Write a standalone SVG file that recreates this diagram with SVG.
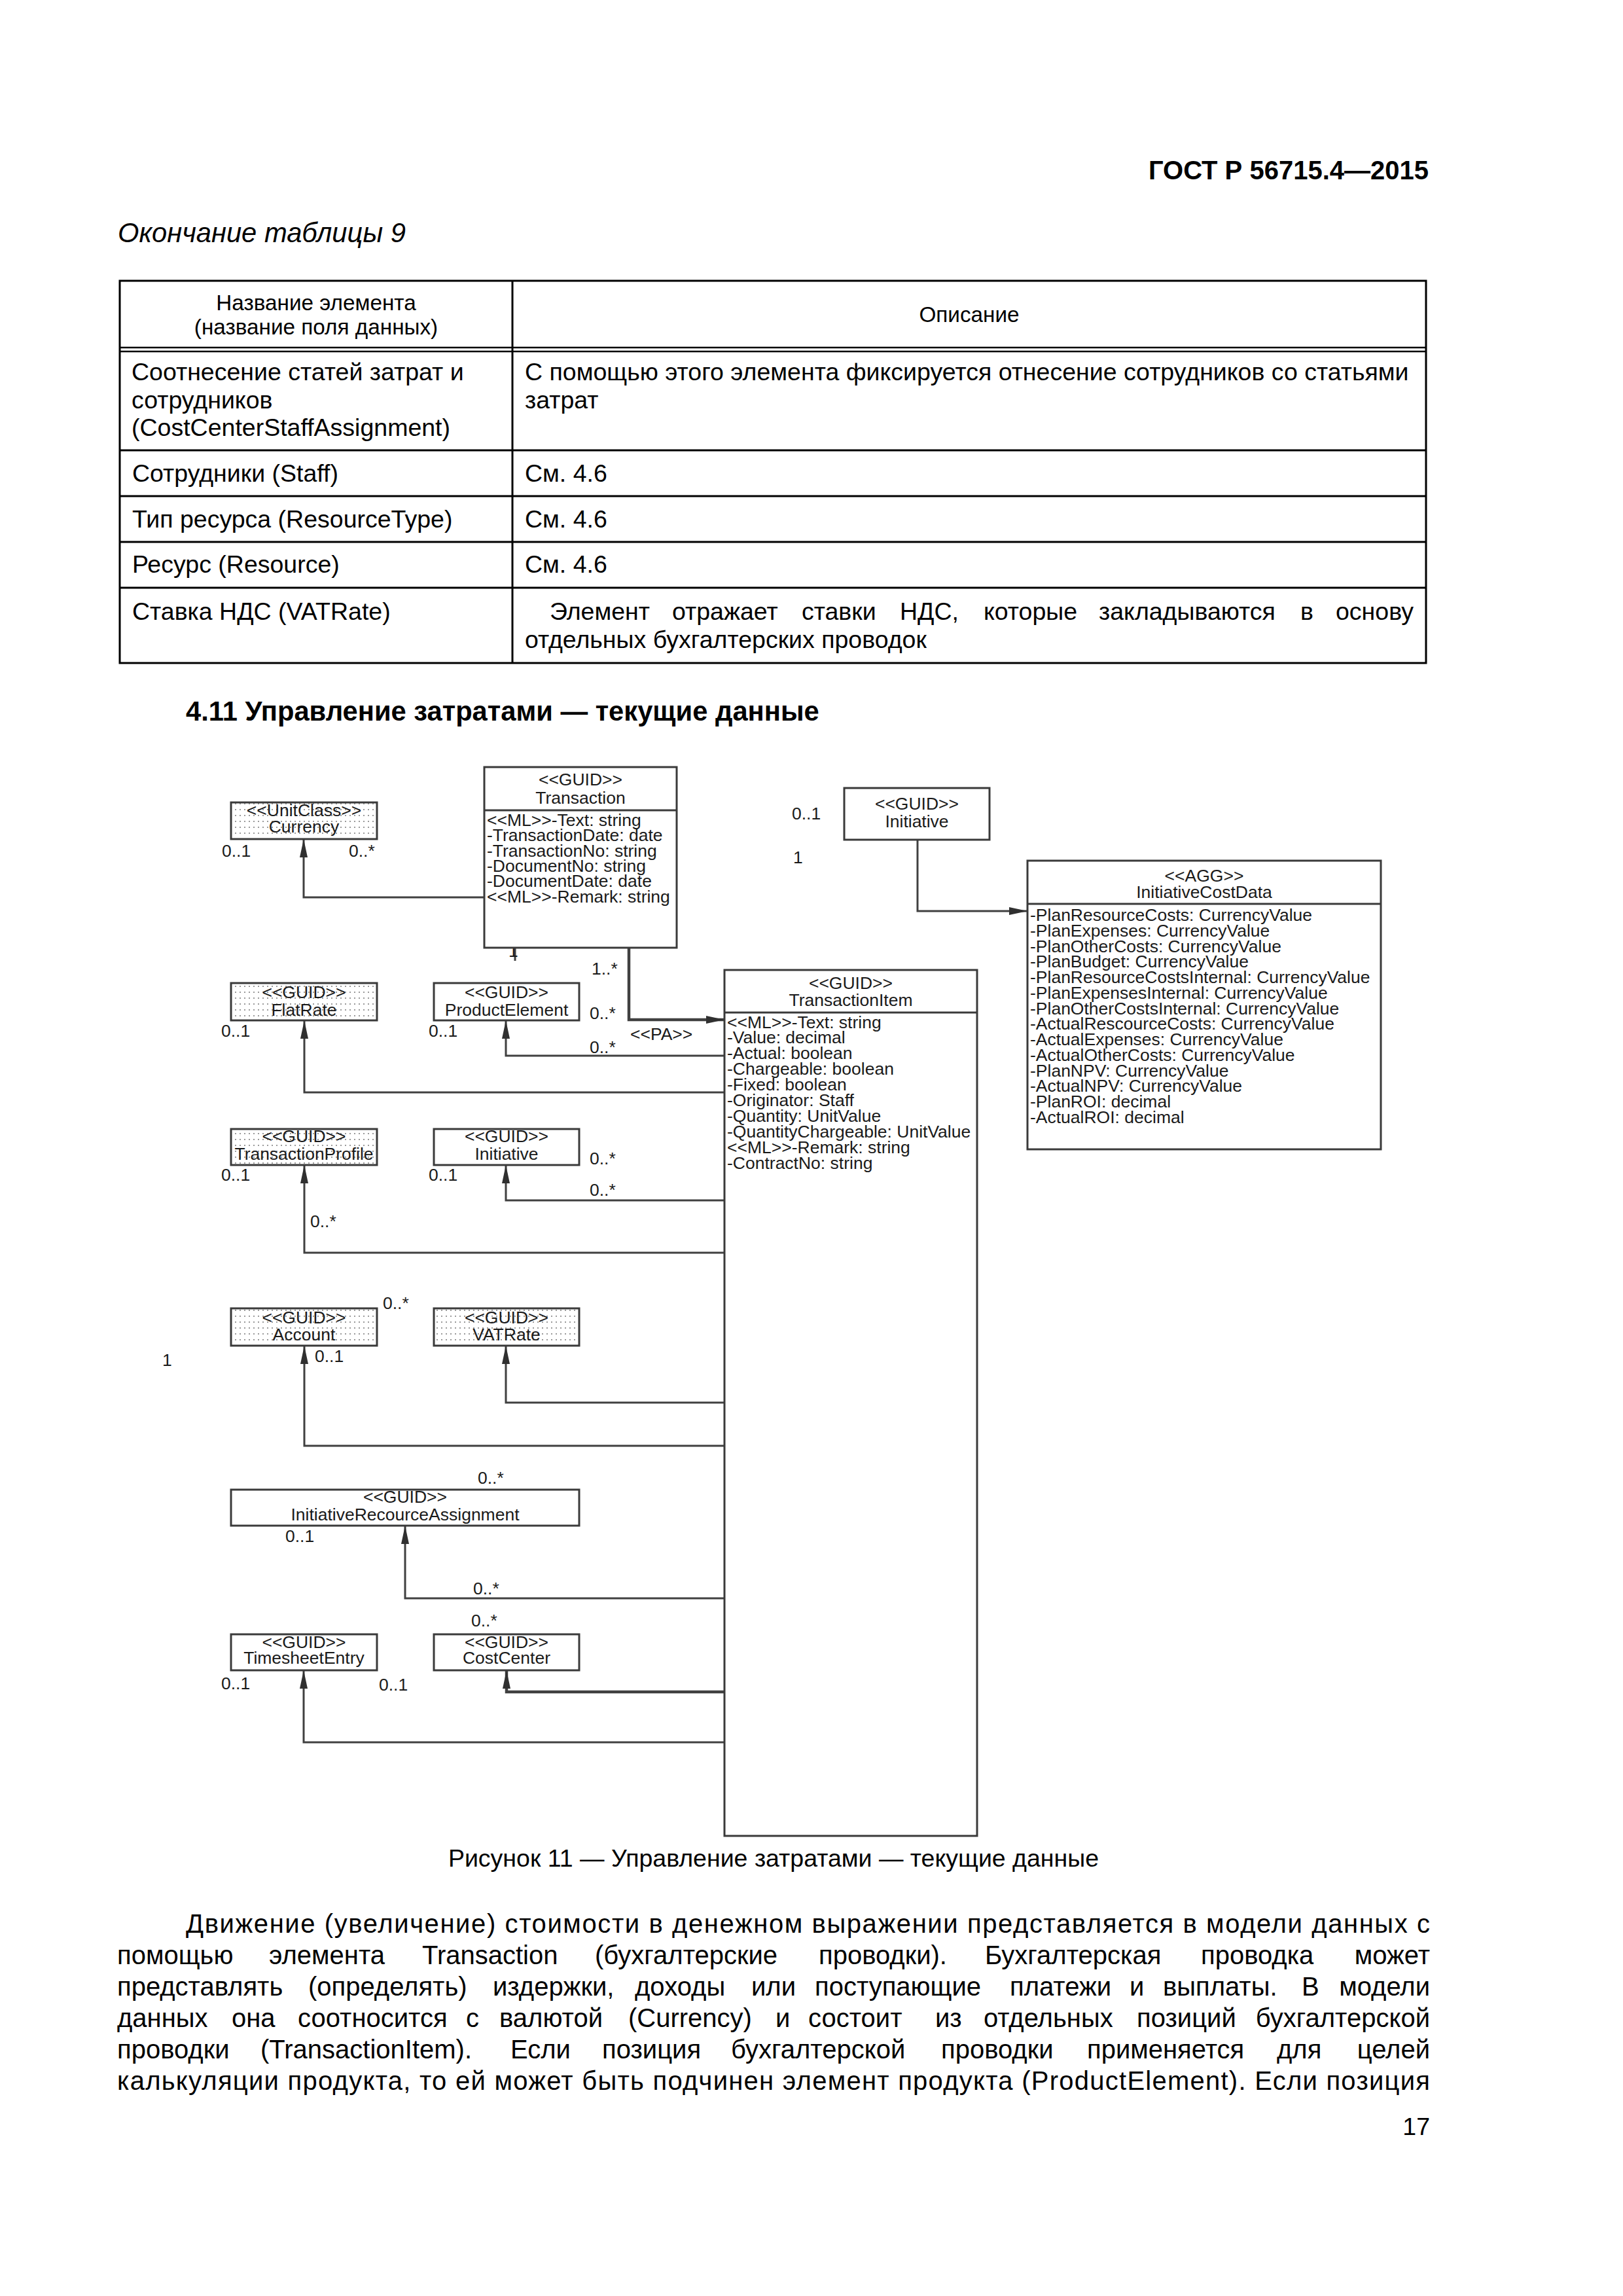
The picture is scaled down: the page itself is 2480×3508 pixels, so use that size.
<svg xmlns="http://www.w3.org/2000/svg" width="2480" height="3508" viewBox="0 0 2480 3508">
<defs>
<style>
.pg{font-family:"Liberation Sans",Arial,sans-serif;fill:#000}
.h{font-size:41.7px;font-weight:bold}
.it{font-size:41.7px;font-style:italic}
.tb{font-size:37.5px}
.th{font-size:33.3px}
.bd{font-size:40px}
.cap{font-size:37.5px}
.t{font-family:"Liberation Sans",Arial,sans-serif;font-size:26.5px;fill:#1a1a1a}
.c{text-anchor:middle}
.e{text-anchor:end}
.box{fill:#fff;stroke:#3a3a3a;stroke-width:3}
.dot{fill:url(#dots);stroke:#3a3a3a;stroke-width:3}
.div{stroke:#3a3a3a;stroke-width:3}
.ln{fill:none;stroke:#404040;stroke-width:3}
.tk{stroke-width:4.5}
.tl{stroke:#000;stroke-width:3;fill:none}
</style>
<pattern id="dots" width="7" height="9" patternUnits="userSpaceOnUse">
<rect width="7" height="9" fill="#fff"/>
<rect x="2" y="3" width="2" height="2" fill="#9a9a9a"/>
</pattern>
<marker id="ar" markerUnits="userSpaceOnUse" markerWidth="28" markerHeight="12" refX="28" refY="6" orient="auto">
<path d="M0,0 L28,6 L0,12 z" fill="#303030"/>
</marker>
</defs>
<rect width="2480" height="3508" fill="#fff"/>

<g id="page-text" class="pg">
<text class="e" x="2183" y="274" style="font-size:40px;font-weight:bold">ГОСТ Р 56715.4—2015</text>
<text class="it" x="180" y="370">Окончание таблицы 9</text>
</g>

<g id="table">
<rect class="tl" x="183" y="429" width="1996" height="584"/>
<line class="tl" x1="783" y1="429" x2="783" y2="1013"/>
<line class="tl" x1="183" y1="531" x2="2179" y2="531" style="stroke-width:2.5"/>
<line class="tl" x1="183" y1="537" x2="2179" y2="537" style="stroke-width:2.5"/>
<line class="tl" x1="183" y1="688" x2="2179" y2="688"/>
<line class="tl" x1="183" y1="758" x2="2179" y2="758"/>
<line class="tl" x1="183" y1="828" x2="2179" y2="828"/>
<line class="tl" x1="183" y1="898" x2="2179" y2="898"/>
<g class="pg">
<text class="th c" x="483" y="474">Название элемента</text>
<text class="th c" x="483" y="511">(название поля данных)</text>
<text class="th c" x="1481" y="492">Описание</text>
<text class="tb" x="201" y="581">Соотнесение статей затрат и</text>
<text class="tb" x="201" y="624">сотрудников</text>
<text class="tb" x="201" y="666">(CostCenterStaffAssignment)</text>
<text class="tb" x="802" y="581">С помощью этого элемента фиксируется отнесение сотрудников со статьями</text>
<text class="tb" x="802" y="624">затрат</text>
<text class="tb" x="202" y="736">Сотрудники (Staff)</text>
<text class="tb" x="802" y="736">См. 4.6</text>
<text class="tb" x="202" y="806">Тип ресурса (ResourceType)</text>
<text class="tb" x="802" y="806">См. 4.6</text>
<text class="tb" x="202" y="875">Ресурс (Resource)</text>
<text class="tb" x="802" y="875">См. 4.6</text>
<text class="tb" x="202" y="947">Ставка НДС (VATRate)</text>
<text class="tb" y="947"><tspan x="840">Элемент</tspan><tspan x="1027">отражает</tspan><tspan x="1225">ставки</tspan><tspan x="1375">НДС,</tspan><tspan x="1503">которые</tspan><tspan x="1679">закладываются</tspan><tspan x="1987">в</tspan><tspan x="2160" text-anchor="end">основу</tspan></text>
<text class="tb" x="802" y="990">отдельных бухгалтерских проводок</text>
</g>
</g>

<g class="pg">
<text class="h" x="284" y="1101">4.11 Управление затратами — текущие данные</text>
</g>

<g id="connectors">
<path class="ln" d="M740 1371 H464 V1282" marker-end="url(#ar)"/>
<path class="ln tk" d="M961 1448 V1558 H1107" marker-end="url(#ar)"/>
<path class="ln" d="M1107 1613 H773 V1559" marker-end="url(#ar)"/>
<path class="ln" d="M1107 1669 H465 V1559" marker-end="url(#ar)"/>
<path class="ln" d="M1107 1834 H773 V1780" marker-end="url(#ar)"/>
<path class="ln" d="M1107 1914 H465 V1780" marker-end="url(#ar)"/>
<path class="ln" d="M1107 2143 H773 V2056" marker-end="url(#ar)"/>
<path class="ln" d="M1107 2209 H465 V2056" marker-end="url(#ar)"/>
<path class="ln" d="M1107 2442 H619 V2331" marker-end="url(#ar)"/>
<path class="ln tk" d="M1107 2585 H774 V2552" marker-end="url(#ar)"/>
<path class="ln" d="M1107 2662 H464 V2552" marker-end="url(#ar)"/>
<path class="ln" d="M1402 1283 V1392 H1570" marker-end="url(#ar)"/>
<path class="ln" d="M787 1448 V1468"/>
</g>

<g id="labels" class="t">
<text x="339" y="1309">0..1</text>
<text x="533" y="1309">0..*</text>
<text x="777" y="1462">1</text>
<text x="904" y="1489">1..*</text>
<text x="901" y="1557">0..*</text>
<text x="963" y="1589">&lt;&lt;PA&gt;&gt;</text>
<text x="901" y="1609">0..*</text>
<text x="338" y="1584">0..1</text>
<text x="655" y="1584">0..1</text>
<text x="338" y="1804">0..1</text>
<text x="655" y="1804">0..1</text>
<text x="901" y="1779">0..*</text>
<text x="901" y="1827">0..*</text>
<text x="474" y="1875">0..*</text>
<text x="585" y="2000">0..*</text>
<text x="481" y="2081">0..1</text>
<text x="248" y="2087">1</text>
<text x="730" y="2267">0..*</text>
<text x="436" y="2356">0..1</text>
<text x="723" y="2436">0..*</text>
<text x="720" y="2485">0..*</text>
<text x="338" y="2581">0..1</text>
<text x="579" y="2583">0..1</text>
<text x="1210" y="1252">0..1</text>
<text x="1212" y="1319">1</text>
</g>

<g id="node-currency" class="t">
<rect class="dot" x="353" y="1226" width="223" height="56"/>
<text class="c" x="464.5" y="1247">&lt;&lt;UnitClass&gt;&gt;</text>
<text class="c" x="464.5" y="1272">Currency</text>
</g>

<g id="node-transaction" class="t">
<rect class="box" x="740" y="1172" width="294" height="276"/>
<line class="div" x1="740" y1="1238" x2="1034" y2="1238"/>
<text class="c" x="887" y="1200">&lt;&lt;GUID&gt;&gt;</text>
<text class="c" x="887" y="1228">Transaction</text>
<text x="744" y="1262">&lt;&lt;ML&gt;&gt;-Text: string</text>
<text x="744" y="1285">-TransactionDate: date</text>
<text x="744" y="1308.5">-TransactionNo: string</text>
<text x="744" y="1332">-DocumentNo: string</text>
<text x="744" y="1355">-DocumentDate: date</text>
<text x="744" y="1378.5">&lt;&lt;ML&gt;&gt;-Remark: string</text>
</g>

<g id="node-initiative-top" class="t">
<rect class="box" x="1290" y="1204" width="222" height="79"/>
<text class="c" x="1401" y="1237">&lt;&lt;GUID&gt;&gt;</text>
<text class="c" x="1401" y="1264">Initiative</text>
</g>

<g id="node-initiativecostdata" class="t">
<rect class="box" x="1570" y="1315" width="540" height="441"/>
<line class="div" x1="1570" y1="1381" x2="2110" y2="1381"/>
<text class="c" x="1840" y="1347">&lt;&lt;AGG&gt;&gt;</text>
<text class="c" x="1840" y="1372">InitiativeCostData</text>
<text x="1574" y="1407">-PlanResourceCosts: CurrencyValue</text>
<text x="1574" y="1430.75">-PlanExpenses: CurrencyValue</text>
<text x="1574" y="1454.5">-PlanOtherCosts: CurrencyValue</text>
<text x="1574" y="1478.25">-PlanBudget: CurrencyValue</text>
<text x="1574" y="1502">-PlanResourceCostsInternal: CurrencyValue</text>
<text x="1574" y="1525.75">-PlanExpensesInternal: CurrencyValue</text>
<text x="1574" y="1549.5">-PlanOtherCostsInternal: CurrencyValue</text>
<text x="1574" y="1573.25">-ActualRescourceCosts: CurrencyValue</text>
<text x="1574" y="1597">-ActualExpenses: CurrencyValue</text>
<text x="1574" y="1620.75">-ActualOtherCosts: CurrencyValue</text>
<text x="1574" y="1644.5">-PlanNPV: CurrencyValue</text>
<text x="1574" y="1668.25">-ActualNPV: CurrencyValue</text>
<text x="1574" y="1692">-PlanROI: decimal</text>
<text x="1574" y="1715.75">-ActualROI: decimal</text>
</g>

<g id="node-transactionitem" class="t">
<rect class="box" x="1107" y="1482" width="386" height="1323"/>
<line class="div" x1="1107" y1="1547" x2="1493" y2="1547"/>
<text class="c" x="1300" y="1511">&lt;&lt;GUID&gt;&gt;</text>
<text class="c" x="1300" y="1537">TransactionItem</text>
<text x="1111" y="1570.5">&lt;&lt;ML&gt;&gt;-Text: string</text>
<text x="1111" y="1594.4">-Value: decimal</text>
<text x="1111" y="1618.3">-Actual: boolean</text>
<text x="1111" y="1642.2">-Chargeable: boolean</text>
<text x="1111" y="1666.1">-Fixed: boolean</text>
<text x="1111" y="1690">-Originator: Staff</text>
<text x="1111" y="1713.9">-Quantity: UnitValue</text>
<text x="1111" y="1737.8">-QuantityChargeable: UnitValue</text>
<text x="1111" y="1761.7">&lt;&lt;ML&gt;&gt;-Remark: string</text>
<text x="1111" y="1785.6">-ContractNo: string</text>
</g>

<g id="node-flatrate" class="t">
<rect class="dot" x="353" y="1502" width="223" height="57"/>
<text class="c" x="464.5" y="1525">&lt;&lt;GUID&gt;&gt;</text>
<text class="c" x="464.5" y="1552">FlatRate</text>
</g>

<g id="node-productelement" class="t">
<rect class="box" x="663" y="1502" width="222" height="57"/>
<text class="c" x="774" y="1525">&lt;&lt;GUID&gt;&gt;</text>
<text class="c" x="774" y="1552">ProductElement</text>
</g>

<g id="node-transactionprofile" class="t">
<rect class="dot" x="353" y="1725" width="223" height="55"/>
<text class="c" x="464.5" y="1745">&lt;&lt;GUID&gt;&gt;</text>
<text class="c" x="464.5" y="1772" textLength="212" lengthAdjust="spacingAndGlyphs">TransactionProfile</text>
</g>

<g id="node-initiative" class="t">
<rect class="box" x="663" y="1725" width="222" height="55"/>
<text class="c" x="774" y="1745">&lt;&lt;GUID&gt;&gt;</text>
<text class="c" x="774" y="1772">Initiative</text>
</g>

<g id="node-account" class="t">
<rect class="dot" x="353" y="1999" width="223" height="57"/>
<text class="c" x="464.5" y="2022">&lt;&lt;GUID&gt;&gt;</text>
<text class="c" x="464.5" y="2048">Account</text>
</g>

<g id="node-vatrate" class="t">
<rect class="dot" x="663" y="1999" width="222" height="57"/>
<text class="c" x="774" y="2022">&lt;&lt;GUID&gt;&gt;</text>
<text class="c" x="774" y="2048">VATRate</text>
</g>

<g id="node-initiativerecourceassignment" class="t">
<rect class="box" x="353" y="2276" width="532" height="55"/>
<text class="c" x="619" y="2296">&lt;&lt;GUID&gt;&gt;</text>
<text class="c" x="619" y="2323">InitiativeRecourceAssignment</text>
</g>

<g id="node-timesheetentry" class="t">
<rect class="box" x="353" y="2497" width="223" height="55"/>
<text class="c" x="464.5" y="2518">&lt;&lt;GUID&gt;&gt;</text>
<text class="c" x="464.5" y="2542">TimesheetEntry</text>
</g>

<g id="node-costcenter" class="t">
<rect class="box" x="663" y="2497" width="222" height="55"/>
<text class="c" x="774" y="2518">&lt;&lt;GUID&gt;&gt;</text>
<text class="c" x="774" y="2542">CostCenter</text>
</g>

<g id="caption-body" class="pg">
<text class="cap c" x="1182" y="2852">Рисунок 11 — Управление затратами — текущие данные</text>
<text class="bd" x="284" y="2953" textLength="1901" lengthAdjust="spacing">Движение (увеличение) стоимости в денежном выражении представляется в модели данных с</text>
<text class="bd" y="3001"><tspan x="179">помощью</tspan><tspan x="411">элемента</tspan><tspan x="645">Transaction</tspan><tspan x="909">(бухгалтерские</tspan><tspan x="1251">проводки).</tspan><tspan x="1505">Бухгалтерская</tspan><tspan x="1835">проводка</tspan><tspan x="2185" text-anchor="end">может</tspan></text>
<text class="bd" y="3049"><tspan x="179">представлять</tspan><tspan x="471">(определять)</tspan><tspan x="753">издержки,</tspan><tspan x="970">доходы</tspan><tspan x="1148">или</tspan><tspan x="1245">поступающие</tspan><tspan x="1543">платежи</tspan><tspan x="1726">и</tspan><tspan x="1777">выплаты.</tspan><tspan x="1989">В</tspan><tspan x="2185" text-anchor="end">модели</tspan></text>
<text class="bd" y="3097"><tspan x="179">данных</tspan><tspan x="354">она</tspan><tspan x="455">соотносится</tspan><tspan x="712">с</tspan><tspan x="763">валютой</tspan><tspan x="960">(Currency)</tspan><tspan x="1185">и</tspan><tspan x="1235">состоит</tspan><tspan x="1429">из</tspan><tspan x="1503">отдельных</tspan><tspan x="1737">позиций</tspan><tspan x="2185" text-anchor="end">бухгалтерской</tspan></text>
<text class="bd" y="3145"><tspan x="179">проводки</tspan><tspan x="398">(TransactionItem).</tspan><tspan x="780">Если</tspan><tspan x="920">позиция</tspan><tspan x="1117">бухгалтерской</tspan><tspan x="1438">проводки</tspan><tspan x="1661">применяется</tspan><tspan x="1951">для</tspan><tspan x="2185" text-anchor="end">целей</tspan></text>
<text class="bd" x="179" y="3193" textLength="2006" lengthAdjust="spacing">калькуляции продукта, то ей может быть подчинен элемент продукта (ProductElement). Если позиция</text>
<text class="e" x="2185" y="3262" style="font-size:37.5px">17</text>
</g>
</svg>
